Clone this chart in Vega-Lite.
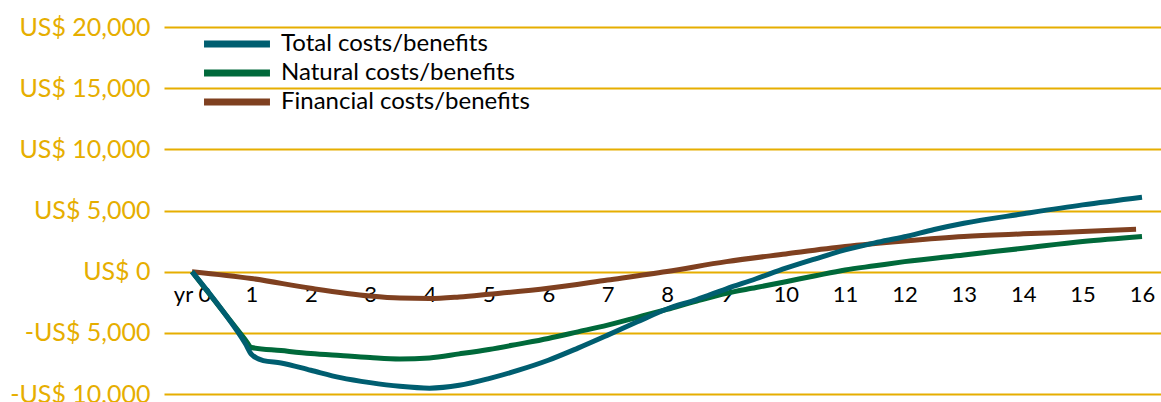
{
  "$schema": "https://vega.github.io/schema/vega-lite/v6.json",
  "width": 997,
  "height": 367,
  "autosize": "none",
  "padding": {"left": 164, "top": 27, "right": 0, "bottom": 8},
  "background": "white",
  "config": {
    "view": {"stroke": null},
    "font": "Lato"
  },
  "data": {
    "values": [
      {"series": "Financial costs/benefits", "year": 0, "value": 0},
      {"series": "Financial costs/benefits", "year": 1, "value": -560},
      {"series": "Financial costs/benefits", "year": 2, "value": -1360},
      {"series": "Financial costs/benefits", "year": 3, "value": -1990},
      {"series": "Financial costs/benefits", "year": 3.5, "value": -2160},
      {"series": "Financial costs/benefits", "year": 4, "value": -2200},
      {"series": "Financial costs/benefits", "year": 4.5, "value": -2070},
      {"series": "Financial costs/benefits", "year": 5, "value": -1850},
      {"series": "Financial costs/benefits", "year": 6, "value": -1360},
      {"series": "Financial costs/benefits", "year": 7, "value": -680},
      {"series": "Financial costs/benefits", "year": 8, "value": 20},
      {"series": "Financial costs/benefits", "year": 9, "value": 820},
      {"series": "Financial costs/benefits", "year": 10, "value": 1450},
      {"series": "Financial costs/benefits", "year": 11, "value": 2050},
      {"series": "Financial costs/benefits", "year": 12, "value": 2500},
      {"series": "Financial costs/benefits", "year": 13, "value": 2870},
      {"series": "Financial costs/benefits", "year": 14, "value": 3090},
      {"series": "Financial costs/benefits", "year": 15, "value": 3280},
      {"series": "Financial costs/benefits", "year": 15.9, "value": 3470},
      {"series": "Natural costs/benefits", "year": 0, "value": 0},
      {"series": "Natural costs/benefits", "year": 0.5, "value": -3100},
      {"series": "Natural costs/benefits", "year": 0.9, "value": -5580},
      {"series": "Natural costs/benefits", "year": 1, "value": -6200},
      {"series": "Natural costs/benefits", "year": 1.5, "value": -6450},
      {"series": "Natural costs/benefits", "year": 2, "value": -6690},
      {"series": "Natural costs/benefits", "year": 2.5, "value": -6860},
      {"series": "Natural costs/benefits", "year": 3, "value": -7020},
      {"series": "Natural costs/benefits", "year": 3.5, "value": -7130},
      {"series": "Natural costs/benefits", "year": 4, "value": -7050},
      {"series": "Natural costs/benefits", "year": 4.5, "value": -6720},
      {"series": "Natural costs/benefits", "year": 5, "value": -6360},
      {"series": "Natural costs/benefits", "year": 5.5, "value": -5920},
      {"series": "Natural costs/benefits", "year": 6, "value": -5460},
      {"series": "Natural costs/benefits", "year": 6.5, "value": -4920},
      {"series": "Natural costs/benefits", "year": 7, "value": -4370},
      {"series": "Natural costs/benefits", "year": 7.5, "value": -3730},
      {"series": "Natural costs/benefits", "year": 8, "value": -3080},
      {"series": "Natural costs/benefits", "year": 8.5, "value": -2400},
      {"series": "Natural costs/benefits", "year": 9, "value": -1770},
      {"series": "Natural costs/benefits", "year": 9.5, "value": -1300},
      {"series": "Natural costs/benefits", "year": 10, "value": -820},
      {"series": "Natural costs/benefits", "year": 10.5, "value": -330},
      {"series": "Natural costs/benefits", "year": 11, "value": 140},
      {"series": "Natural costs/benefits", "year": 11.5, "value": 480},
      {"series": "Natural costs/benefits", "year": 12, "value": 820},
      {"series": "Natural costs/benefits", "year": 13, "value": 1370},
      {"series": "Natural costs/benefits", "year": 14, "value": 1910},
      {"series": "Natural costs/benefits", "year": 15, "value": 2460},
      {"series": "Natural costs/benefits", "year": 16, "value": 2870},
      {"series": "Total costs/benefits", "year": 0, "value": 0},
      {"series": "Total costs/benefits", "year": 0.5, "value": -3100},
      {"series": "Total costs/benefits", "year": 0.9, "value": -5900},
      {"series": "Total costs/benefits", "year": 1, "value": -6750},
      {"series": "Total costs/benefits", "year": 1.2, "value": -7270},
      {"series": "Total costs/benefits", "year": 1.5, "value": -7460},
      {"series": "Total costs/benefits", "year": 2, "value": -8060},
      {"series": "Total costs/benefits", "year": 2.5, "value": -8660},
      {"series": "Total costs/benefits", "year": 3, "value": -9070},
      {"series": "Total costs/benefits", "year": 3.5, "value": -9370},
      {"series": "Total costs/benefits", "year": 4, "value": -9520},
      {"series": "Total costs/benefits", "year": 4.5, "value": -9290},
      {"series": "Total costs/benefits", "year": 5, "value": -8740},
      {"series": "Total costs/benefits", "year": 5.5, "value": -8050},
      {"series": "Total costs/benefits", "year": 6, "value": -7240},
      {"series": "Total costs/benefits", "year": 6.5, "value": -6250},
      {"series": "Total costs/benefits", "year": 7, "value": -5190},
      {"series": "Total costs/benefits", "year": 7.5, "value": -4100},
      {"series": "Total costs/benefits", "year": 8, "value": -3050},
      {"series": "Total costs/benefits", "year": 8.5, "value": -2280},
      {"series": "Total costs/benefits", "year": 9, "value": -1400},
      {"series": "Total costs/benefits", "year": 9.5, "value": -580},
      {"series": "Total costs/benefits", "year": 10, "value": 280},
      {"series": "Total costs/benefits", "year": 10.5, "value": 1050},
      {"series": "Total costs/benefits", "year": 11, "value": 1780},
      {"series": "Total costs/benefits", "year": 11.5, "value": 2350},
      {"series": "Total costs/benefits", "year": 12, "value": 2850},
      {"series": "Total costs/benefits", "year": 12.5, "value": 3450},
      {"series": "Total costs/benefits", "year": 13, "value": 3960},
      {"series": "Total costs/benefits", "year": 14, "value": 4730},
      {"series": "Total costs/benefits", "year": 15, "value": 5460},
      {"series": "Total costs/benefits", "year": 16, "value": 6090}
    ]
  },
  "mark": {"type": "line", "strokeWidth": 5, "interpolate": "monotone", "strokeCap": "butt"},
  "encoding": {
    "x": {
      "field": "year",
      "type": "quantitative",
      "scale": {"domain": [-0.4716, 16.32], "nice": false, "zero": false},
      "axis": {
        "title": null,
        "values": [0, 1, 2, 3, 4, 5, 6, 7, 8, 9, 10, 11, 12, 13, 14, 15, 16],
        "labelExpr": "datum.value == 0 ? 'yr 0' : datum.label",
        "grid": false,
        "domain": false,
        "ticks": false,
        "tickSize": 0,
        "offset": -122,
        "labelPadding": 12,
        "labelFontSize": 22,
        "labelColor": "#000000",
        "labelFont": "Lato",
        "labelOverlap": false,
        "labelFlush": false
      }
    },
    "y": {
      "field": "value",
      "type": "quantitative",
      "scale": {"domain": [-10000, 20000], "nice": false},
      "axis": {
        "title": null,
        "values": [-10000, -5000, 0, 5000, 10000, 15000, 20000],
        "labelExpr": "datum.value < 0 ? '-US$ ' + format(-datum.value, ',') : 'US$ ' + format(datum.value, ',')",
        "grid": true,
        "gridColor": "#E6AE00",
        "gridWidth": 2,
        "gridOpacity": 1,
        "domain": false,
        "ticks": false,
        "tickSize": 0,
        "labelPadding": 14,
        "labelFontSize": 25,
        "labelColor": "#E6AE00",
        "labelFont": "Lato",
        "labelOverlap": false,
        "labelFlush": false
      }
    },
    "color": {
      "field": "series",
      "type": "nominal",
      "scale": {
        "domain": ["Total costs/benefits", "Natural costs/benefits", "Financial costs/benefits"],
        "range": ["#005E70", "#00693A", "#7F4020"]
      },
      "legend": {
        "title": null,
        "orient": "none",
        "legendX": 61,
        "legendY": 5,
        "padding": 0,
        "symbolType": "M-5,0H5",
        "symbolSize": 174,
        "symbolStrokeWidth": 7,
        "labelFontSize": 24,
        "labelFont": "Lato",
        "labelColor": "#000000",
        "labelOffset": 32,
        "rowPadding": 1,
        "labelLimit": 400
      }
    }
  }
}
